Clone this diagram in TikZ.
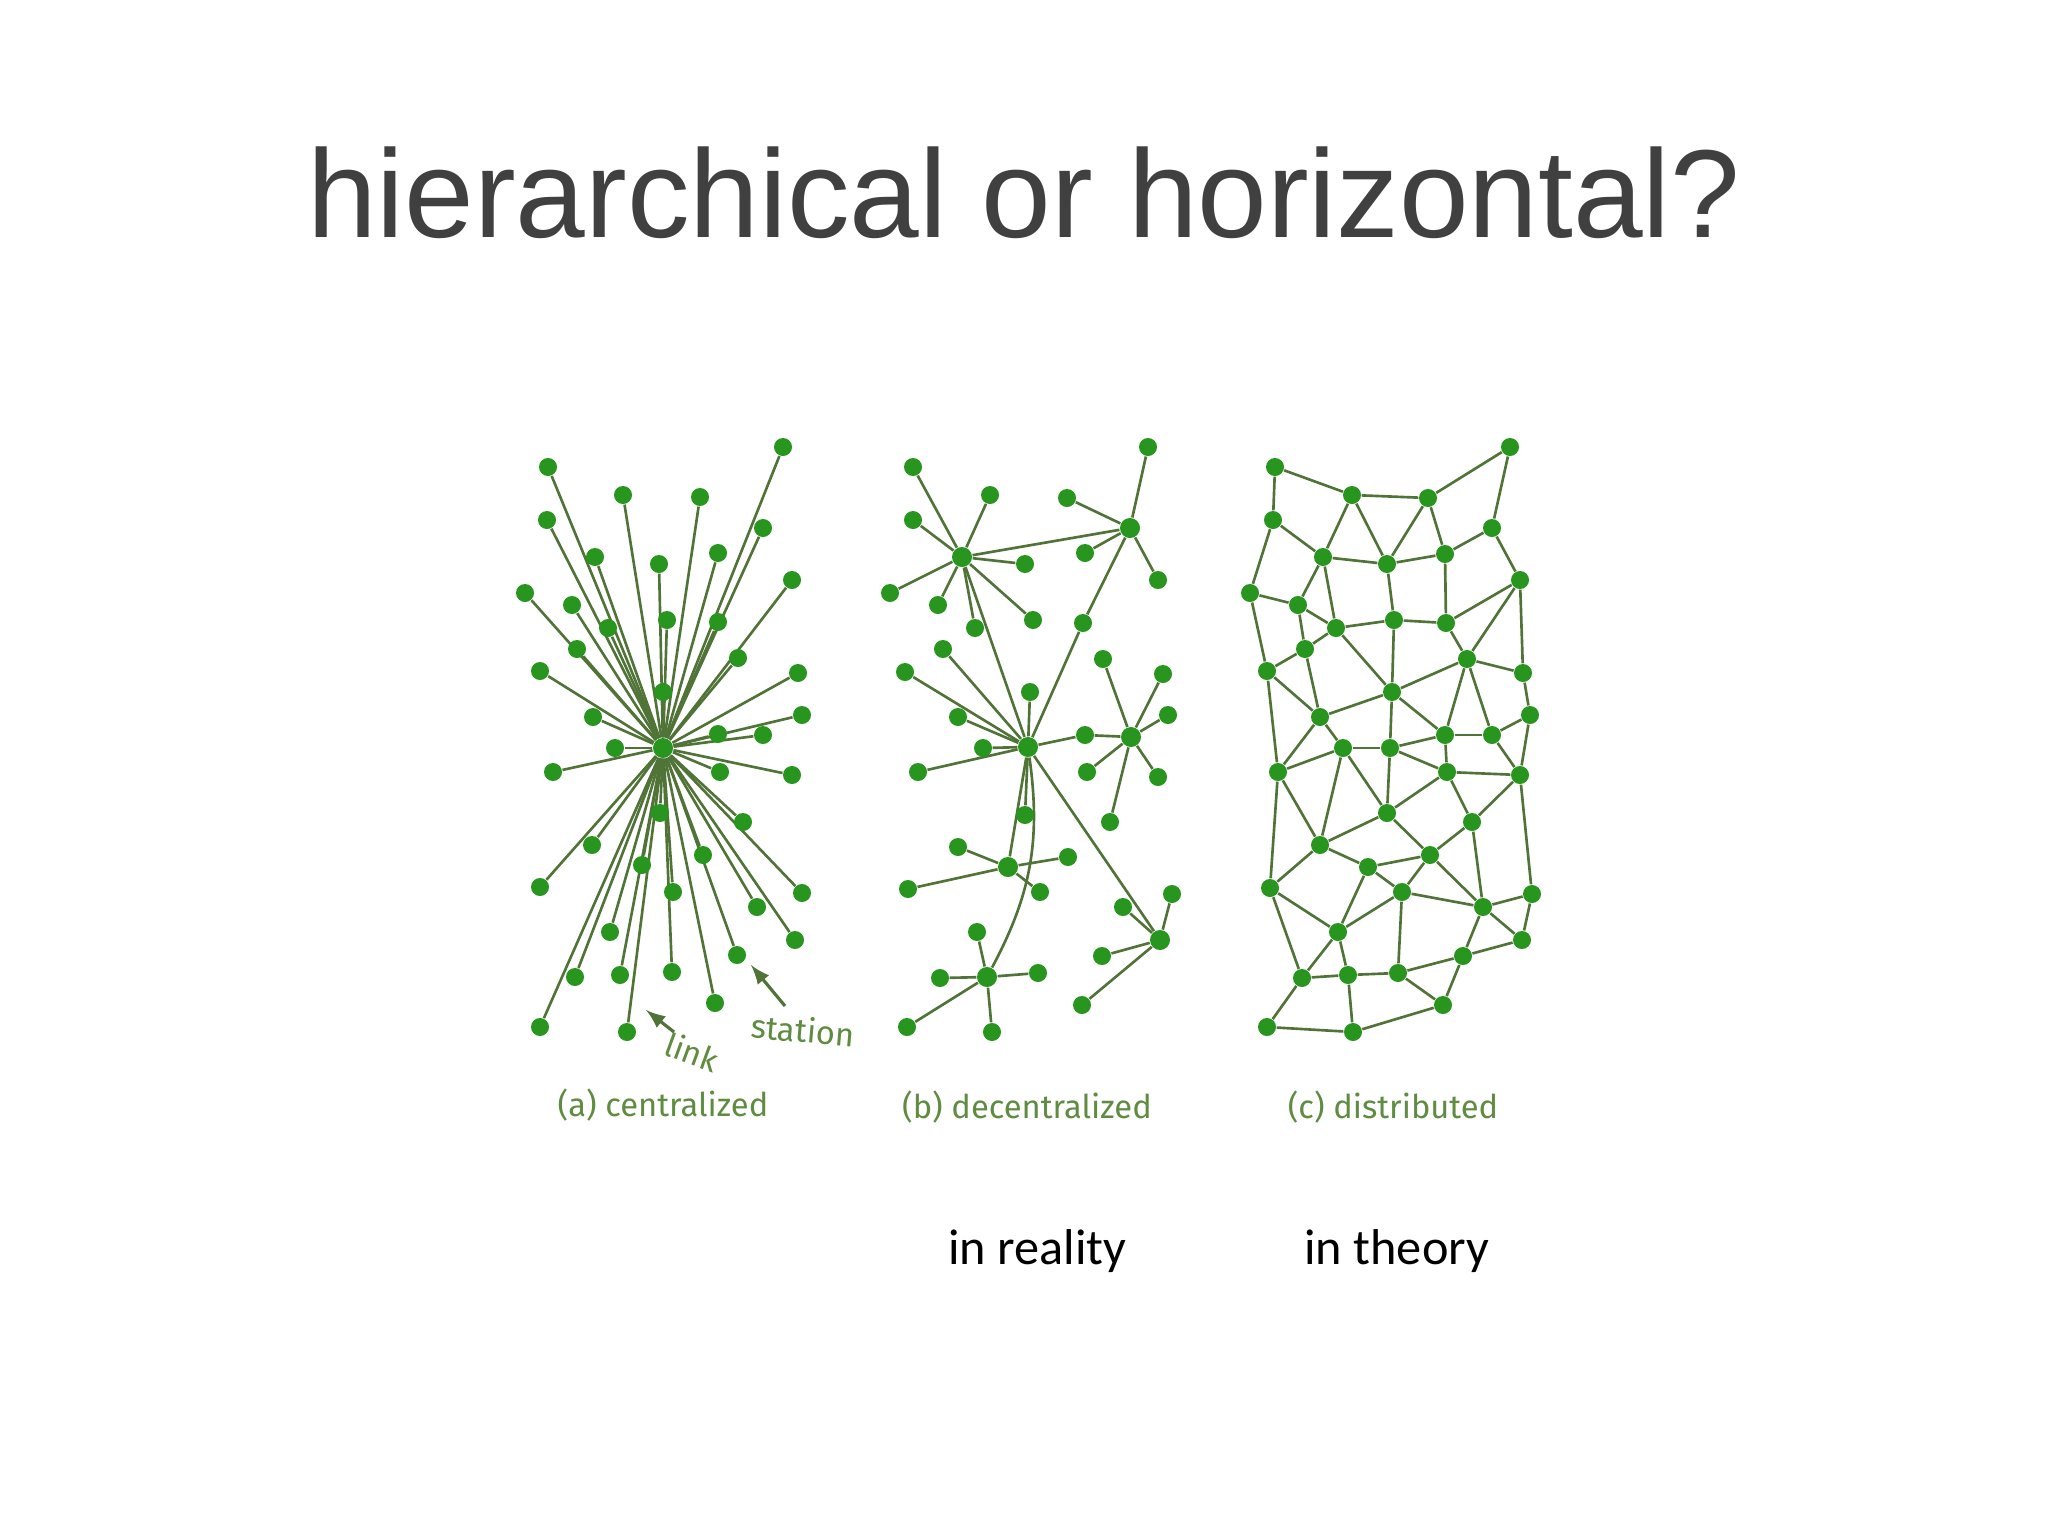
\documentclass[tikz,border=0pt]{standalone}
\usepackage{fontspec}
\setmainfont{Liberation Sans}
\newfontfamily\notefont{Carlito}
\newfontfamily\handfont{Fira Sans}
\usetikzlibrary{backgrounds}
\definecolor{dotgreen}{RGB}{40,150,30}
\definecolor{wiregray}{RGB}{80,115,55}
\definecolor{captgreen}{RGB}{95,140,65}
\definecolor{titlegray}{RGB}{64,64,64}

\begin{document}
\begin{tikzpicture}[x=0.01cm, y=-0.01cm, >=latex]
  \tikzstyle{station}=[circle, fill=dotgreen, inner sep=0pt, minimum size=0.18cm]
  \tikzstyle{hub}=[station, minimum size=0.2cm]
  \tikzstyle{wire}=[draw=wiregray, line width=0.75pt]
  \tikzstyle{caption}=[font=\handfont\fontsize{9.3pt}{11pt}\selectfont, text=captgreen]
  \useasboundingbox (0,0) rectangle (2048,1536);

  \node[anchor=base, text=titlegray, font=\fontsize{35.6pt}{40pt}\selectfont] (title) at (1024,237) {hierarchical or horizontal?};

  % (a) centralized: one hub, every station hangs on it
  \node[hub] (a) at (663,748) {};
  \foreach \place/\name in {{(548,467)/a1}, {(783,447)/a2}, {(623,495)/a3}, {(700,497)/a4},
      {(547,520)/a5}, {(763,528)/a6}, {(595,557)/a7}, {(659,564)/a8}, {(718,553)/a9},
      {(525,593)/a10}, {(792,580)/a11}, {(572,605)/a12}, {(608,628)/a13}, {(667,620)/a14},
      {(718,622)/a15}, {(577,649)/a16}, {(738,658)/a17}, {(540,671)/a18}, {(798,673)/a19},
      {(663,692)/a20}, {(593,717)/a21}, {(802,715)/a22}, {(718,734)/a23}, {(763,735)/a24},
      {(615,748)/a25}, {(553,772)/a26}, {(720,772)/a27}, {(792,775)/a28}, {(660,813)/a29},
      {(743,822)/a30}, {(592,845)/a31}, {(703,855)/a32}, {(642,865)/a33}, {(540,887)/a34},
      {(673,892)/a35}, {(802,893)/a36}, {(757,907)/a37}, {(610,932)/a38}, {(795,940)/a39},
      {(737,955)/a40}, {(575,977)/a41}, {(620,975)/a42}, {(672,972)/a43}, {(715,1003)/a44},
      {(540,1027)/a45}, {(627,1032)/a46}}
    \node[station] (\name) at \place {};

  \node[caption, rotate=-20, inner sep=1pt] (link) at (692,1052) {link};
  \node[caption, rotate=-5, inner sep=1pt] (station) at (803,1030) {station};
  \coordinate (linkfrom) at (674,1032);
  \coordinate (linkto) at (646,1010);
  \coordinate (stationfrom) at (785,1006);
  \coordinate (stationto) at (751,965);
  \draw[->, draw=wiregray, line width=0.9pt] (linkfrom) -- (linkto);
  \draw[->, draw=wiregray, line width=0.9pt] (stationfrom) -- (stationto);
  \node[caption] (capa) at (663,1105) {(a) centralized};

  % (b) decentralized: small hubs joined to each other
  \foreach \place/\name in {{(962,557)/b1}, {(1130,528)/b2}, {(1028,747)/b3}, {(1131,737)/b4},
      {(1008,867)/b5}, {(987,977)/b6}, {(1160,940)/b7}}
    \node[hub] (\name) at \place {};
  \foreach \place/\name in {{(913,467)/b1a}, {(990,495)/b1b}, {(913,520)/b1c}, {(1025,564)/b1d},
      {(890,593)/b1e}, {(938,605)/b1f}, {(975,628)/b1g}, {(1033,620)/b1h},
      {(1148,447)/b2a}, {(1067,498)/b2b}, {(1085,553)/b2c}, {(1158,580)/b2d}, {(1083,623)/b23},
      {(943,649)/b3a}, {(905,672)/b3b}, {(1030,692)/b3c}, {(958,717)/b3d}, {(983,748)/b3e},
      {(918,772)/b3f}, {(1025,815)/b3g}, {(1085,735)/b34},
      {(1103,659)/b4a}, {(1163,674)/b4b}, {(1168,715)/b4c}, {(1087,772)/b4d},
      {(1158,777)/b4e}, {(1110,822)/b4f},
      {(958,847)/b5a}, {(1068,857)/b5b}, {(908,889)/b5c}, {(1040,892)/b5d},
      {(977,932)/b6a}, {(940,978)/b6b}, {(1038,973)/b6c}, {(907,1027)/b6d}, {(992,1032)/b6e},
      {(1123,907)/b7a}, {(1172,894)/b7b}, {(1102,956)/b7c}, {(1082,1005)/b7d}}
    \node[station] (\name) at \place {};
  \node[caption] (capb) at (1027,1107) {(b) decentralized};

  % (c) distributed: a mesh
  \foreach \place/\name in {{(1275,467)/c1}, {(1510,447)/c2}, {(1352,495)/c3}, {(1428,498)/c4},
      {(1273,520)/c5}, {(1492,528)/c6}, {(1323,557)/c7}, {(1387,564)/c8}, {(1445,554)/c9},
      {(1250,593)/c10}, {(1520,580)/c11}, {(1298,605)/c12}, {(1336,628)/c13}, {(1394,620)/c14},
      {(1446,623)/c15}, {(1305,649)/c16}, {(1467,659)/c17}, {(1267,671)/c18}, {(1523,673)/c19},
      {(1392,692)/c20}, {(1320,717)/c21}, {(1530,715)/c22}, {(1445,735)/c23}, {(1492,735)/c24},
      {(1343,748)/c25}, {(1390,748)/c26}, {(1278,772)/c27}, {(1447,772)/c28}, {(1520,775)/c29},
      {(1387,813)/c30}, {(1472,822)/c31}, {(1320,845)/c32}, {(1430,855)/c33}, {(1368,867)/c34},
      {(1270,888)/c35}, {(1402,892)/c36}, {(1532,894)/c37}, {(1483,907)/c38}, {(1338,932)/c39},
      {(1522,940)/c40}, {(1463,956)/c41}, {(1302,978)/c42}, {(1348,975)/c43}, {(1398,973)/c44},
      {(1443,1005)/c45}, {(1267,1027)/c46}, {(1353,1032)/c47}}
    \node[station] (\name) at \place {};
  \node[caption] (capc) at (1393,1107) {(c) distributed};

  \node[anchor=base west, font=\notefont\fontsize{14.3pt}{17pt}\selectfont] (reality) at (936,1264) {in reality};
  \node[anchor=base west, font=\notefont\fontsize{14.3pt}{17pt}\selectfont] (theory) at (1292,1264) {in theory};

  \begin{scope}[on background layer]
    \fill[white] (0,0) rectangle (2048,1536);
    \foreach \i in {1,...,46}
      \path[wire] (a) edge (a\i);
    \foreach \leaf in {a,...,h}
      \path[wire] (b1) edge (b1\leaf);
    \foreach \leaf in {a,...,d}
      \path[wire] (b2) edge (b2\leaf) (b5) edge (b5\leaf) (b7) edge (b7\leaf);
    \foreach \leaf in {a,...,g}
      \path[wire] (b3) edge (b3\leaf);
    \foreach \leaf in {a,...,f}
      \path[wire] (b4) edge (b4\leaf);
    \foreach \leaf in {a,...,e}
      \path[wire] (b6) edge (b6\leaf);
    \foreach \speer/\peer in {b1/b2, b1/b3, b2/b23, b23/b3, b3/b34, b34/b4, b3/b5, b3/b7}
      \path[wire] (\speer) edge (\peer);
    \path[wire] (b3) edge[bend left=18] (b6);
    \foreach \speer/\peer in {c1/c3, c3/c4, c4/c2, c1/c5, c2/c6, c5/c7, c5/c10, c3/c7, c3/c8,
        c4/c8, c4/c9, c6/c9, c6/c11, c7/c8, c8/c9, c7/c12, c7/c13, c8/c14, c9/c15, c10/c12,
        c10/c18, c12/c13, c12/c16, c13/c16, c13/c14, c14/c15, c16/c18, c16/c21, c13/c20,
        c14/c20, c11/c15, c15/c17, c11/c17, c11/c19, c17/c19, c17/c20, c17/c23, c17/c24,
        c18/c21, c20/c21, c20/c23, c19/c22, c22/c24, c23/c24, c21/c25, c25/c26, c20/c26,
        c26/c23, c18/c27, c27/c35, c21/c27, c27/c25, c27/c32, c25/c32, c25/c30, c26/c30,
        c26/c28, c23/c28, c24/c29, c22/c29, c28/c29, c28/c30, c28/c31, c29/c31, c29/c37,
        c30/c32, c30/c33, c31/c33, c31/c38, c32/c34, c32/c35, c33/c34, c33/c36, c33/c38,
        c34/c36, c34/c39, c36/c39, c36/c38, c36/c44, c35/c39, c35/c42, c37/c38, c37/c40,
        c38/c40, c38/c41, c39/c42, c39/c43, c40/c41, c41/c44, c41/c45, c42/c43, c43/c44,
        c44/c45, c42/c46, c43/c47, c46/c47, c47/c45}
      \path[wire] (\speer) edge (\peer);
  \end{scope}
\end{tikzpicture}
\end{document}
